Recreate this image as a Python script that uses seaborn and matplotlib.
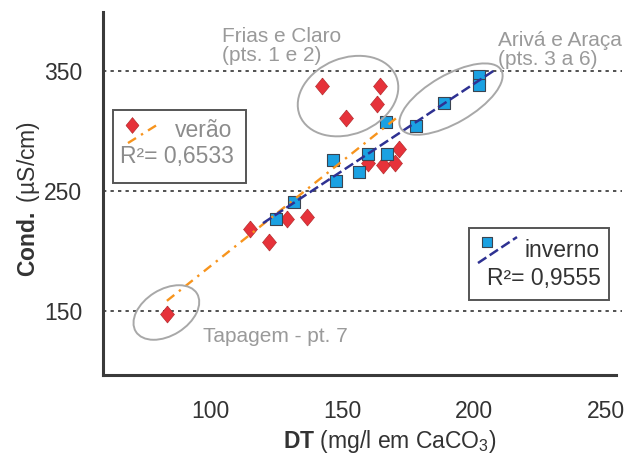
"""Conductivity vs hardness scatter, summer/winter with linear fits."""
import numpy as np
import pandas as pd
import matplotlib.pyplot as plt
import seaborn as sns
from matplotlib.patches import Ellipse, Rectangle
from matplotlib.transforms import ScaledTranslation

# summer (verão) samples
verao_dt = [83.7, 115.0, 122.3, 129.1, 136.8, 142.6, 151.6, 164.6, 163.3, 160.0, 165.5, 170.0, 171.7]
verao_cond = [147.2, 218.3, 207.3, 226.1, 228.3, 337.6, 311.0, 337.6, 322.3, 273.1, 271.7, 273.1, 285.0]
# winter (inverno) samples
inverno_dt = [125.1, 131.8, 146.6, 147.6, 156.4, 159.8, 166.9, 166.5, 178.2, 188.5, 202.1, 202.1]
inverno_cond = [226.1, 240.7, 275.9, 258.4, 265.6, 280.6, 280.6, 307.7, 304.1, 323.4, 345.6, 338.1]

x_ticks = [100, 150, 200, 250]
y_ticks = [150, 250, 350]

# site groups: label, centre (DT, Cond.)
group_labels = ['Frias e Claro\n(pts. 1 e 2)', 'Arivá e Araça\n(pts. 3 a 6)', 'Tapagem - pt. 7']
group_centres = [(152.3, 328.9), (191.3, 326.4), (83.5, 148.5)]

RED = '#e6323a'
BLUE = '#1ba1e2'
ORANGE = '#f7941d'
NAVY = '#2e3192'
GREY = '#9a9a9a'
DARK = '#3a3a3a'

sns.set_style('white')
plt.rcParams['font.family'] = ['Liberation Sans', 'DejaVu Sans']
plt.rcParams['mathtext.fontset'] = 'custom'
plt.rcParams['mathtext.rm'] = 'Liberation Sans'
plt.rcParams['mathtext.it'] = 'Liberation Sans:italic'
plt.rcParams['mathtext.bf'] = 'Liberation Sans:bold'

diamond = [(0, 1), (0.82, 0), (0, -1), (-0.82, 0), (0, 1)]

df_v = pd.DataFrame({'DT': verao_dt, 'Cond': verao_cond})
df_i = pd.DataFrame({'DT': inverno_dt, 'Cond': inverno_cond})


def fit_line(x, y, x0, x1):
    slope, icpt = np.polyfit(x, y, 1)
    xs = np.array([x0, x1])
    return xs, slope * xs + icpt


fig, ax = plt.subplots(figsize=(6.38, 4.61), dpi=100)
fig.subplots_adjust(left=103 / 638, right=616 / 638, bottom=86 / 461, top=449 / 461)

for y in y_ticks:
    ax.axhline(y, xmin=0, xmax=1.012, color='#333333', lw=1.2,
               linestyle=(0, (2, 2.5)), zorder=1, clip_on=False)

sns.scatterplot(data=df_v, x='DT', y='Cond', ax=ax, marker=diamond, s=150,
                color=RED, edgecolor='#a82222', linewidth=0.4, zorder=3)
sns.scatterplot(data=df_i, x='DT', y='Cond', ax=ax, marker='s', s=72,
                color=BLUE, edgecolor='#3b4450', linewidth=0.8, zorder=4)

xs, ys = fit_line(verao_dt, verao_cond, min(verao_dt), max(verao_dt))
ax.plot(xs, ys, color=ORANGE, lw=1.7, linestyle=(0, (4, 2.5, 1, 2.5)), zorder=5)
xs, ys = fit_line(inverno_dt, inverno_cond, min(inverno_dt) - 5, max(inverno_dt) + 6)
ax.plot(xs, ys, color=NAVY, lw=1.8, linestyle=(0, (4, 1.6)), zorder=5)

# ellipses drawn in screen inches around each group
ell_sizes = [(1.04, 0.76, 22), (1.16, 0.48, 30), (0.72, 0.46, 32)]
for (cx, cy), (w, h, ang) in zip(group_centres, ell_sizes):
    tr = fig.dpi_scale_trans + ScaledTranslation(cx, cy, ax.transData)
    ax.add_patch(Ellipse((0, 0), w, h, angle=ang, transform=tr, fill=False,
                         edgecolor='#a8a8a8', lw=1.4, zorder=6))

ax.text(0.2320, 0.865, group_labels[0], transform=ax.transAxes, fontsize=15,
        color=GREY, va='baseline', ha='left', linespacing=1.0)
ax.text(0.770, 0.854, group_labels[1], transform=ax.transAxes, fontsize=15,
        color=GREY, va='baseline', ha='left', linespacing=1.0)
ax.text(0.195, 0.091, group_labels[2], transform=ax.transAxes, fontsize=15,
        color=GREY, va='baseline', ha='left')

# legend boxes
ax.add_patch(Rectangle((0.0195, 0.529), 0.2593, 0.201, transform=ax.transAxes,
                       fill=True, facecolor='white', edgecolor='#555555', lw=1.4, zorder=7))
ax.scatter([0.0565], [0.688], transform=ax.transAxes, marker=diamond, s=130,
           color=RED, edgecolor='#a82222', linewidth=0.4, zorder=8)
ax.plot([0.0487, 0.111], [0.639, 0.694], transform=ax.transAxes, color=ORANGE,
        lw=1.7, linestyle=(0, (4, 2.5, 1, 2.5)), zorder=8)
ax.text(0.140, 0.656, 'verão', transform=ax.transAxes, fontsize=16.5,
        color='#8c8c8c', va='baseline', zorder=8)
ax.text(0.033, 0.584, 'R²= 0,6533', transform=ax.transAxes, fontsize=16.5,
        color='#8c8c8c', va='baseline', zorder=8)

ax.add_patch(Rectangle((0.713, 0.2066), 0.273, 0.198, transform=ax.transAxes,
                       fill=True, facecolor='white', edgecolor='#555555', lw=1.4, zorder=7))
ax.scatter([0.7485], [0.366], transform=ax.transAxes, marker='s', s=60,
           color=BLUE, edgecolor='#3b4450', linewidth=0.8, zorder=8)
ax.plot([0.731, 0.807], [0.3085, 0.380], transform=ax.transAxes, color=NAVY,
        lw=1.8, linestyle=(0, (4, 1.6)), zorder=8)
ax.text(0.8207, 0.325, 'inverno', transform=ax.transAxes, fontsize=16.5,
        color='#333333', va='baseline', zorder=8)
ax.text(0.7485, 0.248, 'R²= 0,9555', transform=ax.transAxes, fontsize=16.5,
        color='#333333', va='baseline', zorder=8)

ax.set_xlim(59.5, 253.8)
ax.set_ylim(96.4, 399)
ax.set_xticks(x_ticks)
ax.set_yticks(y_ticks)
ax.tick_params(axis='x', direction='out', length=12, width=1.1, color=DARK,
               labelsize=16.5, labelcolor='#333333', pad=6)
ax.tick_params(axis='y', direction='out', length=10, width=1.1, color=DARK,
               labelsize=16.5, labelcolor='#333333', pad=5)
sns.despine(ax=ax)
for side in ['left', 'bottom']:
    ax.spines[side].set_linewidth(2.2)
    ax.spines[side].set_color(DARK)

ax.set_xlabel('$\\mathbf{DT}$ (mg/l em CaCO$_3$)', fontsize=16.5, color='#333333')
ax.xaxis.set_label_coords(0.56, -0.145)
ax.set_ylabel('$\\mathbf{Cond.}$ (µS/cm)', fontsize=16.5, color='#333333')
ax.yaxis.set_label_coords(-0.118, 0.486)

fig.savefig('out.png', dpi=100)
